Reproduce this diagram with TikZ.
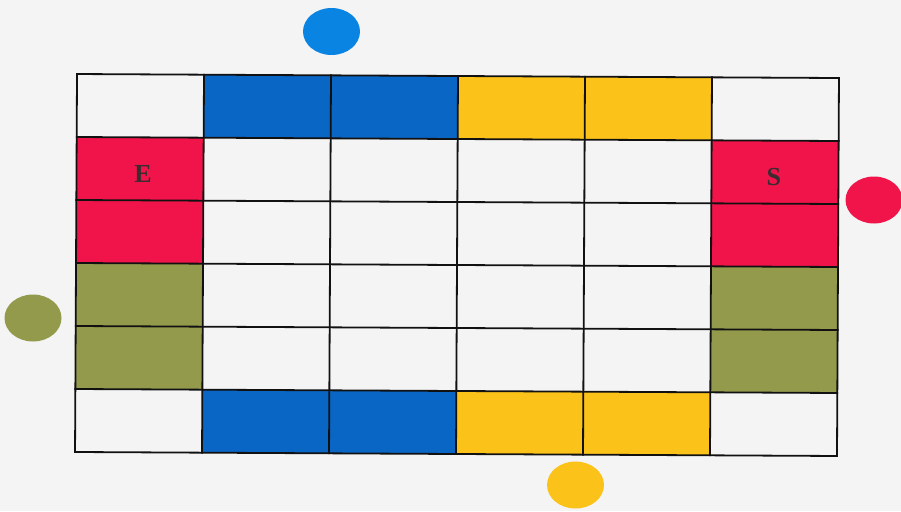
\documentclass[tikz,border=0pt]{standalone}
\usepackage{fontspec}
\setmainfont{Liberation Serif}
\usetikzlibrary{shapes.geometric}
\definecolor{bgc}{HTML}{F4F4F4}
\definecolor{cblue}{HTML}{0A66C4}
\definecolor{eblue}{HTML}{0A84E2}
\definecolor{cred}{HTML}{F0144A}
\definecolor{cyel}{HTML}{FBC21A}
\definecolor{colive}{HTML}{939A4C}
\definecolor{linec}{HTML}{111111}
\definecolor{txtc}{HTML}{3A2C30}
\begin{document}
\begin{tikzpicture}[x=1pt,y=-1pt,
  cell/.style={rectangle, draw=none, inner sep=0pt, transform shape,
    minimum width=127pt, minimum height=63pt, fill=bgc},
  gridline/.style={draw=linec, line width=1.8pt, line cap=rect},
  lbl/.style={font=\bfseries\fontsize{26}{26}\selectfont, text=txtc, inner sep=0pt},
  dot/.style={ellipse, inner sep=0pt, minimum width=57pt, minimum height=47pt}]
\fill[bgc] (0,0) rectangle (901,511);
\useasboundingbox (0,0) rectangle (901,511);
\begin{scope}[rotate around={-0.3:(457,265)}]
\foreach \r/\row in {0/{bgc,cblue,cblue,cyel,cyel,bgc},
                     1/{cred,bgc,bgc,bgc,bgc,cred},
                     2/{cred,bgc,bgc,bgc,bgc,cred},
                     3/{colive,bgc,bgc,bgc,bgc,colive},
                     4/{colive,bgc,bgc,bgc,bgc,colive},
                     5/{bgc,cblue,cblue,cyel,cyel,bgc}}{
  \foreach \cc [count=\c from 0] in \row {
    \node[cell, fill=\cc] (c-\r-\c) at ({139.5+127*\c},{107.5+63*\r}) {};
  }
}
\foreach \i in {0,...,6}{
  \draw[gridline] ({76+127*\i},76) -- ({76+127*\i},454);
  \draw[gridline] (76,{76+63*\i}) -- (838,{76+63*\i});
}
\node[lbl] (lblE) at ([shift={(3,5)}]c-1-0.center) {E};
\node[lbl] (lblS) at ([shift={(-1,5)}]c-1-5.center) {S};
\end{scope}
\node[dot, fill=eblue] (dtop) at (331.5,31.5) {};
\node[dot, fill=cred] (dright) at (874,200) {};
\node[dot, fill=colive] (dleft) at (33,318) {};
\node[dot, fill=cyel] (dbot) at (575.5,485) {};
\end{tikzpicture}
\end{document}
